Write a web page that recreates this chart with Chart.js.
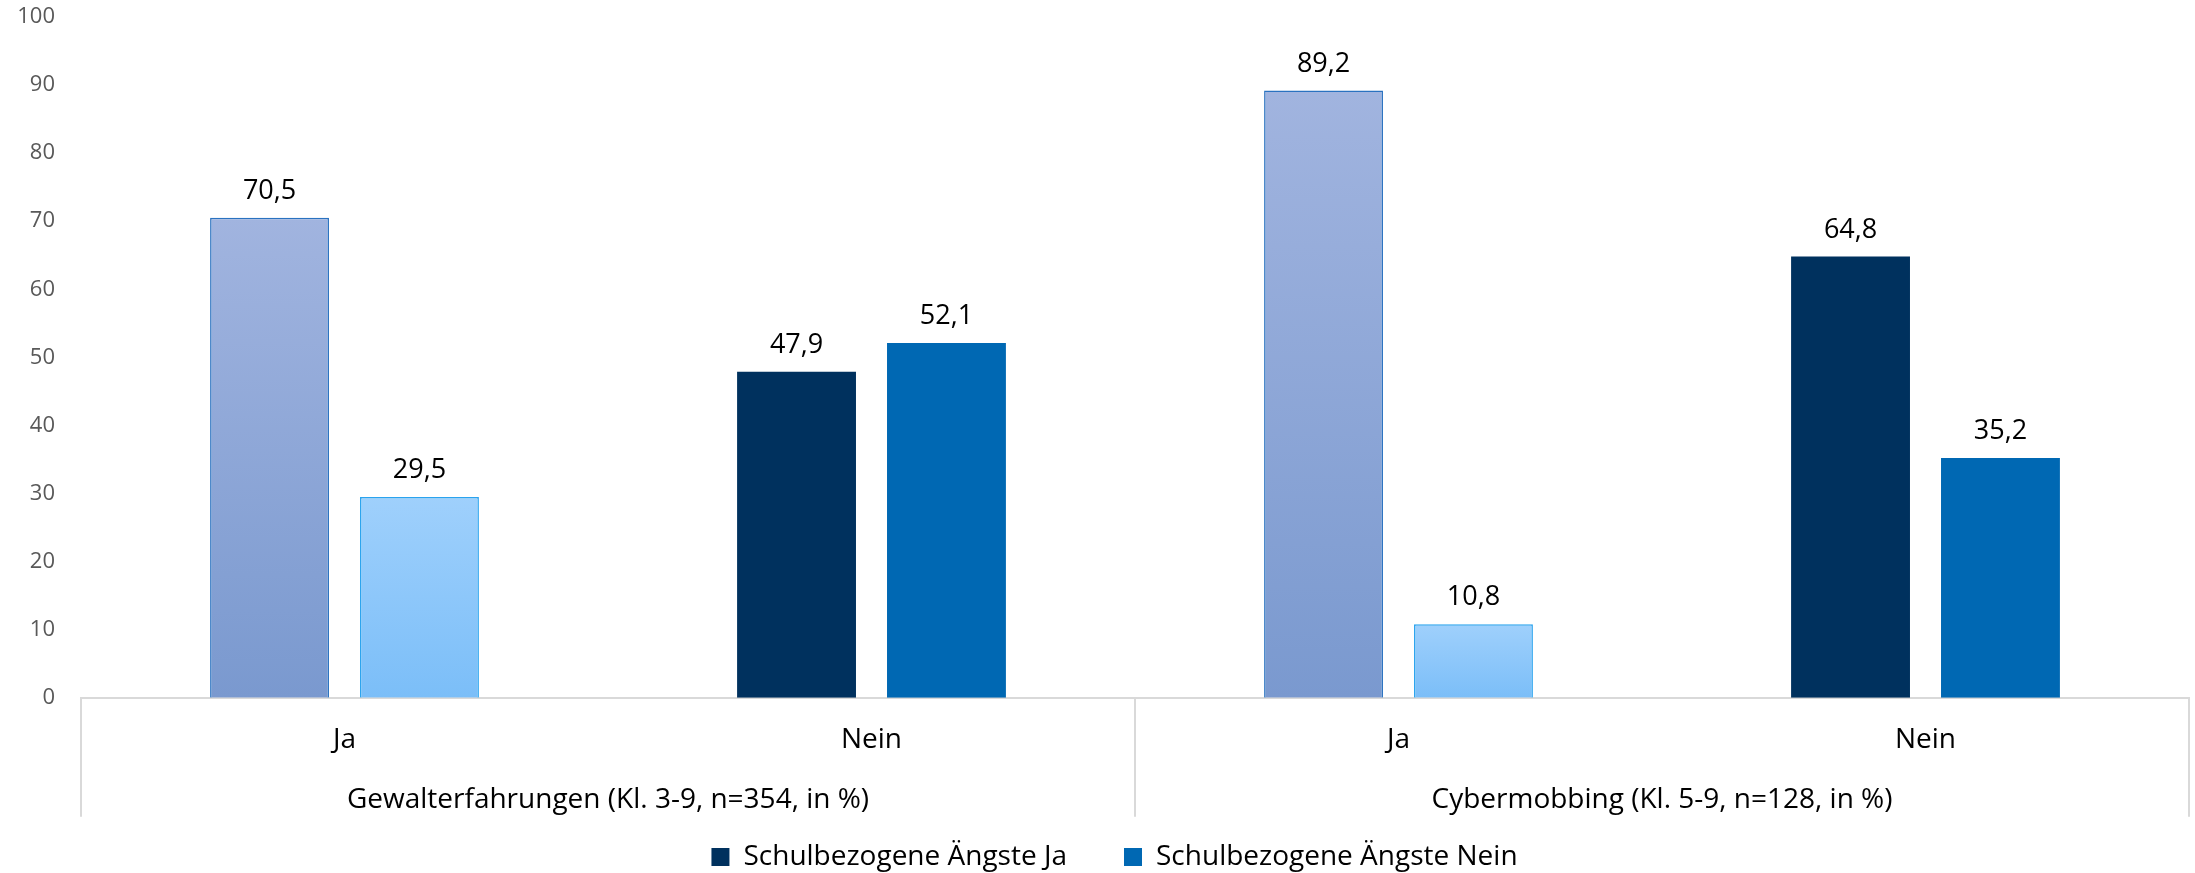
<!DOCTYPE html>
<html lang="de">
<head>
<meta charset="utf-8">
<title>Schulbezogene Ängste</title>
<script src="https://cdn.jsdelivr.net/npm/chart.js@4/dist/chart.umd.min.js"></script>
<style>
  html, body { margin: 0; padding: 0; background: #fff; }
  #wrap { width: 2195px; height: 873px; }
</style>
</head>
<body>
<div id="wrap"><canvas id="angst" width="2195" height="873"></canvas></div>
<script>
// Werte
var categories = ['Ja', 'Nein', 'Ja', 'Nein'];
var groups = ['Gewalterfahrungen (Kl. 3-9, n=354, in %)', 'Cybermobbing (Kl. 5-9, n=128, in %)'];
var seriesNames = ['Schulbezogene Ängste Ja', 'Schulbezogene Ängste Nein'];
var angstJa = [70.5, 47.9, 89.2, 64.8];
var angstNein = [29.5, 52.1, 10.8, 35.2];
var yMax = 100;
var yStep = 10;

// Farben
var solidColors = ['#00315e', '#0068b3'];
var gradTop = ['#a1b4df', '#9fd0fc'];
var gradBottom = ['#7a99cf', '#7bbef8'];
var borderColors = ['#2a72c0', '#2aa3ee'];
var FONT = '"Open Sans", "DejaVu Sans", sans-serif';

// "Ja"-Balken bekommen einen Verlauf, "Nein"-Balken sind einfarbig
function barFill(ctx) {
  var ds = ctx.datasetIndex;
  if (categories[ctx.dataIndex] !== 'Ja') return solidColors[ds];
  var chart = ctx.chart;
  if (!chart.chartArea) return gradBottom[ds];
  var y = chart.scales.y;
  var g = chart.ctx.createLinearGradient(0, y.getPixelForValue(ctx.raw), 0, y.getPixelForValue(0));
  g.addColorStop(0, gradTop[ds]);
  g.addColorStop(1, gradBottom[ds]);
  return g;
}

function barBorder(ctx) {
  return categories[ctx.dataIndex] === 'Ja' ? 1.5 : 0;
}

// Zahlen über den Balken
var valueLabels = {
  id: 'valueLabels',
  afterDatasetsDraw: function(chart) {
    var c = chart.ctx;
    c.save();
    c.font = '27px ' + FONT;
    c.fillStyle = '#000';
    c.textAlign = 'center';
    c.textBaseline = 'alphabetic';
    chart.data.datasets.forEach(function(ds, di) {
      chart.getDatasetMeta(di).data.forEach(function(bar, i) {
        c.fillText(ds.data[i].toFixed(1).replace('.', ','), bar.x, bar.y - 19);
      });
    });
    c.restore();
  }
};

// Gruppenbeschriftung und Trennlinien unter der x-Achse
var groupAxis = {
  id: 'groupAxis',
  afterLayout: function(chart) {
    // Legende etwas nach rechts rücken
    chart.legend.left += 40;
  },
  afterDraw: function(chart) {
    var x = chart.scales.x;
    var c = chart.ctx;
    var top = x.top;
    var mid = (x.getPixelForTick(1) + x.getPixelForTick(2)) / 2;
    c.save();
    c.strokeStyle = '#d9d9d9';
    c.lineWidth = 2;
    [x.left, mid, x.right].forEach(function(px) {
      c.beginPath();
      c.moveTo(px, top);
      c.lineTo(px, top + 119);
      c.stroke();
    });
    c.font = '28px ' + FONT;
    c.fillStyle = '#000';
    c.textAlign = 'center';
    c.textBaseline = 'middle';
    groups.forEach(function(label, gi) {
      var cx = (x.getPixelForTick(gi * 2) + x.getPixelForTick(gi * 2 + 1)) / 2;
      c.fillText(label, cx, top + 102);
    });
    c.restore();
  }
};

var data = {
  labels: categories,
  datasets: [
    {
      label: seriesNames[0],
      data: angstJa,
      backgroundColor: barFill,
      borderColor: borderColors[0],
      borderWidth: barBorder
    },
    {
      label: seriesNames[1],
      data: angstNein,
      backgroundColor: barFill,
      borderColor: borderColors[1],
      borderWidth: barBorder
    }
  ]
};

var config = {
  type: 'bar',
  data: data,
  options: {
    responsive: false,
    animation: false,
    devicePixelRatio: 1,
    categoryPercentage: 0.569,
    barPercentage: 0.793,
    layout: { padding: { left: 0, right: 6, top: 17, bottom: 0 } },
    scales: {
      x: {
        grid: { display: false, drawTicks: false },
        border: { display: true, color: '#d9d9d9', width: 2 },
        ticks: { color: '#000', padding: 26, font: { family: FONT, size: 28 } },
        afterFit: function(scale) {
          scale.height = 88.3;
          scale.paddingLeft = 0;
          scale.paddingRight = 0;
        }
      },
      y: {
        min: 0,
        max: yMax,
        grid: { display: false, drawTicks: false },
        border: { display: false },
        ticks: { stepSize: yStep, color: '#595959', padding: 26, font: { family: FONT, size: 22 } },
        afterFit: function(scale) {
          scale.width = 81;
          scale.paddingTop = 0;
          scale.paddingBottom = 0;
        }
      }
    },
    plugins: {
      tooltip: { enabled: false },
      legend: {
        position: 'bottom',
        maxHeight: 87,
        labels: {
          color: '#000',
          boxWidth: 18,
          boxHeight: 18,
          padding: 57,
          font: { family: FONT, size: 28 },
          generateLabels: function() {
            return seriesNames.map(function(name, i) {
              return { text: name, fillStyle: solidColors[i], strokeStyle: solidColors[i], lineWidth: 0, hidden: false, datasetIndex: i };
            });
          }
        }
      }
    }
  },
  plugins: [valueLabels, groupAxis]
};

var chart = new Chart(document.getElementById('angst'), config);
</script>
</body>
</html>
